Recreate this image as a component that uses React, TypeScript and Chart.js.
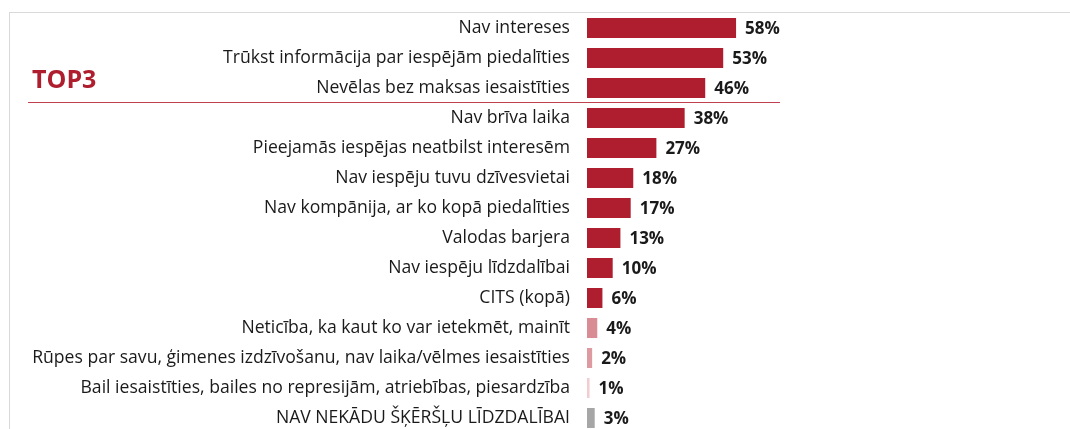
import React, { useEffect, useRef } from "react";
import { Chart, registerables } from "chart.js";

Chart.register(...registerables);

const categories = [
  "Nav intereses",
  "Trūkst informācija par iespējām piedalīties",
  "Nevēlas bez maksas iesaistīties",
  "Nav brīva laika",
  "Pieejamās iespējas neatbilst interesēm",
  "Nav iespēju tuvu dzīvesvietai",
  "Nav kompānija, ar ko kopā piedalīties",
  "Valodas barjera",
  "Nav iespēju līdzdalībai",
  "CITS (kopā)",
  "Neticība, ka kaut ko var ietekmēt, mainīt",
  "Rūpes par savu, ģimenes izdzīvošanu, nav laika/vēlmes iesaistīties",
  "Bail iesaistīties, bailes no represijām, atriebības, piesardzība",
  "NAV NEKĀDU ŠĶĒRŠĻU LĪDZDALĪBAI",
];

const values = [58, 53, 46, 38, 27, 18, 17, 13, 10, 6, 4, 2, 1, 3];

const barColors = [
  "#AE1E2F", "#AE1E2F", "#AE1E2F", "#AE1E2F", "#AE1E2F",
  "#AE1E2F", "#AE1E2F", "#AE1E2F", "#AE1E2F", "#AE1E2F",
  "#D98C94", "#DE9AA1", "#F2CDD1", "#A6A6A6",
];

const FONT = "'Open Sans', Lato, sans-serif";

export default function App() {
  const ref = useRef<HTMLCanvasElement | null>(null);

  useEffect(() => {
    if (!ref.current) return;
    const valueLabels = {
      id: "valueLabels",
      afterDatasetsDraw(chart: any) {
        const ctx = chart.ctx;
        const meta = chart.getDatasetMeta(0);
        ctx.save();
        ctx.font = `bold 17px ${FONT}`;
        ctx.fillStyle = "#1a1a1a";
        ctx.textAlign = "left";
        ctx.textBaseline = "middle";
        meta.data.forEach((bar: any, i: number) => {
          ctx.fillText(values[i] + "%", bar.x + 9, bar.y + 1);
        });
        ctx.restore();
      },
    };
    const chart = new Chart(ref.current, {
      type: "bar",
      data: {
        labels: categories,
        datasets: [
          {
            data: values,
            backgroundColor: barColors,
            borderWidth: 0,
            barPercentage: 20 / 30,
            categoryPercentage: 1,
          },
        ],
      },
      options: {
        indexAxis: "y",
        animation: false,
        responsive: false,
        maintainAspectRatio: false,
        layout: { padding: { top: 13, bottom: 7, left: 0, right: 226 } },
        plugins: {
          legend: { display: false },
          tooltip: { enabled: false },
          title: { display: false },
        },
        scales: {
          x: {
            display: false,
            min: 0,
            max: 100,
          },
          y: {
            afterFit: (s: any) => {
              s.width = 587;
              s.paddingTop = 0;
              s.paddingBottom = 0;
            },
            grid: { display: false, drawTicks: false },
            border: { display: false },
            ticks: {
              padding: 17,
              color: "#1a1a1a",
              font: { family: FONT, size: 17.6 },
              autoSkip: false,
            },
          },
        },
      },
      plugins: [valueLabels],
    });
    return () => chart.destroy();
  }, []);

  return (
    <div style={{ position: "absolute", left: 0, top: 0, width: 1070, height: 429, overflow: "hidden", background: "#fff" }}>
      <div
        style={{
          position: "absolute",
          left: 9,
          top: 12,
          width: 1100,
          height: 500,
          borderLeft: "1px solid #d9d9d9",
          borderTop: "1px solid #d9d9d9",
        }}
      />
      <canvas ref={ref} width={1070} height={440} style={{ position: "absolute", left: 0, top: 0 }} />
      <div
        style={{
          position: "absolute",
          left: 32,
          top: 63,
          fontFamily: FONT,
          fontWeight: "bold",
          fontSize: 25,
          color: "#AE1E2F",
          lineHeight: "30px",
        }}
      >
        TOP3
      </div>
      <div
        style={{
          position: "absolute",
          left: 28,
          top: 102,
          width: 752,
          height: 1,
          background: "#C0404F",
        }}
      />
    </div>
  );
}
